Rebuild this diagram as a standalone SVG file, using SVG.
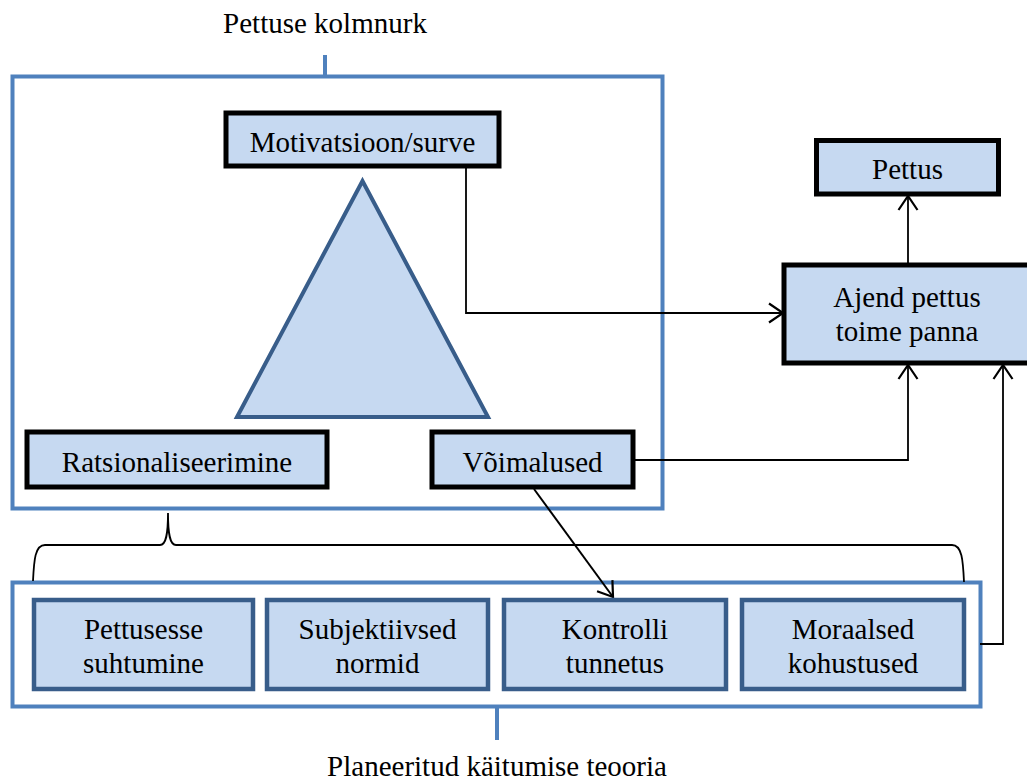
<svg xmlns="http://www.w3.org/2000/svg" width="1027" height="780" viewBox="0 0 1027 780">
<style>
text{font-family:"Liberation Serif","Times New Roman",serif;font-size:29px;fill:#000;text-anchor:middle}
.frame{fill:none;stroke:#4F81BD;stroke-width:4}
.bk{fill:#C6D9F1;stroke:#000;stroke-width:5}
.bl{fill:#C6D9F1;stroke:#385D8A;stroke-width:4.5}
.c{fill:none;stroke:#000;stroke-width:1.8}
</style>
<defs>
<marker id="ar" markerWidth="18" markerHeight="22" refX="15" refY="11" orient="auto" markerUnits="userSpaceOnUse">
<path d="M1,1.5 L15,11 L1,20.5" fill="none" stroke="#000" stroke-width="2.2"/>
</marker>
</defs>
<rect width="1027" height="780" fill="#fff"/>
<g id="frame-kolmnurk">
<rect class="frame" x="12.5" y="76.5" width="650" height="432"/>
<line x1="325" y1="55" x2="325" y2="76" stroke="#4F81BD" stroke-width="4"/>
<text x="325" y="33">Pettuse kolmnurk</text>
</g>
<g id="frame-teooria">
<rect class="frame" x="12.5" y="582.5" width="968" height="124"/>
<line x1="497" y1="708" x2="497" y2="740" stroke="#4F81BD" stroke-width="4"/>
<text x="497" y="776">Planeeritud käitumise teooria</text>
</g>
<g id="triangle">
<polygon points="362.5,181 237,417 488,417" fill="#C6D9F1" stroke="#385D8A" stroke-width="4"/>
</g>
<g id="connectors">
<polyline class="c" points="466,166 466,313 783,313" marker-end="url(#ar)"/>
<polyline class="c" points="633,460 908,460 908,365" marker-end="url(#ar)"/>
<polyline class="c" points="980,644 1003,644 1003,365" marker-end="url(#ar)"/>
<line class="c" x1="908" y1="265" x2="908" y2="196" marker-end="url(#ar)"/>
<line class="c" x1="534" y1="489" x2="613" y2="597" marker-end="url(#ar)" style="stroke-width:2"/>
<path class="c" d="M33,581 C34,560 35,545 45,545 L160,545 C166,545 168,535 168,513 C168,535 170,545 176,545 L952,545 C962,545 963,560 964,582"/>
</g>
<g id="motivatsioon">
<rect class="bk" x="226" y="113" width="273" height="53"/>
<text x="362.5" y="152">Motivatsioon/surve</text>
</g>
<g id="ratsionaliseerimine">
<rect class="bk" x="27" y="432" width="300" height="55"/>
<text x="177" y="472">Ratsionaliseerimine</text>
</g>
<g id="voimalused">
<rect class="bk" x="432" y="432" width="201" height="55"/>
<text x="532.5" y="472">Võimalused</text>
</g>
<g id="pettus">
<rect class="bk" x="816.5" y="140.5" width="182" height="53.5"/>
<text x="907.5" y="179">Pettus</text>
</g>
<g id="ajend">
<rect class="bk" x="784" y="265" width="250" height="98"/>
<text x="907" y="307">Ajend pettus</text>
<text x="907" y="341">toime panna</text>
</g>
<g id="pettusesse">
<rect class="bl" x="34" y="600" width="219" height="89"/>
<text x="143.5" y="639">Pettusesse</text>
<text x="143.5" y="673">suhtumine</text>
</g>
<g id="subjektiivsed">
<rect class="bl" x="267" y="600" width="221" height="89"/>
<text x="377.5" y="639">Subjektiivsed</text>
<text x="377.5" y="673">normid</text>
</g>
<g id="kontrolli">
<rect class="bl" x="504" y="600" width="222" height="89"/>
<text x="615" y="639">Kontrolli</text>
<text x="615" y="673">tunnetus</text>
</g>
<g id="moraalsed">
<rect class="bl" x="742" y="600" width="222" height="89"/>
<text x="853" y="639">Moraalsed</text>
<text x="853" y="673">kohustused</text>
</g>
</svg>
